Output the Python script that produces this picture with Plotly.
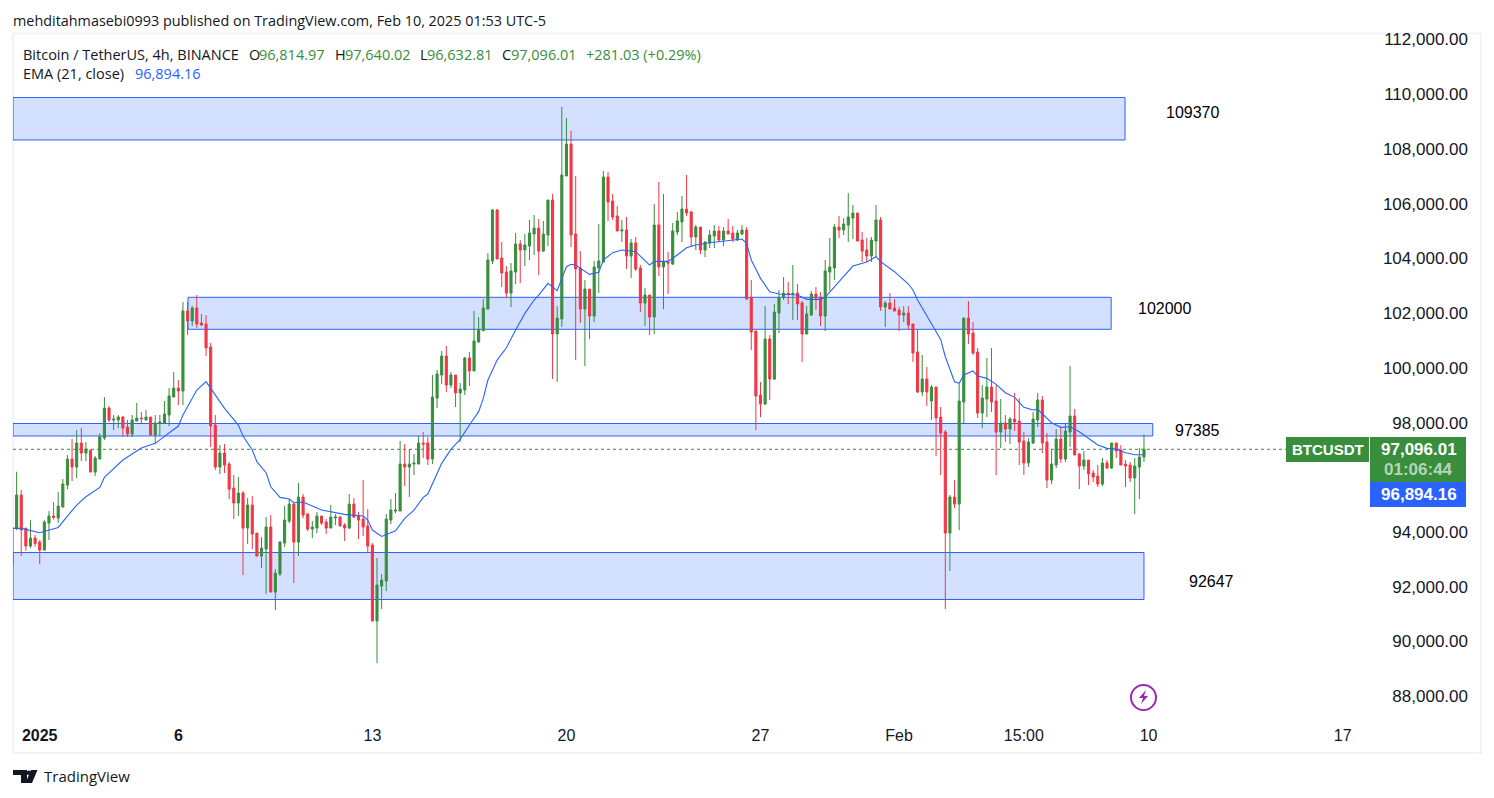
import pandas as pd
import plotly.graph_objects as go

bar_open = [
92830,94206,95424,94206,93560,93853,93707,93414,94401,94657,
94583,94985,95789,96739,96447,97324,96959,97068,96264,96739,
97507,98603,98164,98164,98274,97909,97653,98128,98237,98164,
98274,97616,98043,98055,98347,99005,99334,99224,102147,101782,
102257,101709,101672,100832,97982,96447,96959,96557,95680,95132,
95497,94218,95058,94035,93195,93451,94255,91880,92537,93670,
94474,95096,93707,95352,94730,94182,94219,94657,94438,94219,
94584,94621,94328,94219,95096,94657,94548,94292,93598,90821,
92100,92282,94511,94840,94840,96557,96448,96557,96557,97325,
97325,96740,98969,99809,100504,99444,99809,99152,99261,100431,
99956,101015,101427,102219,103973,105837,104083,103571,102804,103571,
104594,104375,104521,104960,105179,104338,104923,106202,101306,101854,
107079,108248,104960,103717,102219,102950,101963,103717,103937,107042,
106165,105617,105069,105106,104156,104631,103717,102438,102731,101927,
105288,103754,103937,103863,105033,105398,105873,105764,104850,105215,
104375,104631,104887,105069,104740,105069,104996,104740,104960,105106,
102646,101415,99077,98748,101123,99662,102073,102646,102792,102767,
102804,102439,101306,102000,102767,102658,101964,103571,103717,105216,
105106,105289,105544,105727,104741,104375,104156,104704,105471,102292,
102439,102256,102183,102000,102073,101673,100650,99188,99663,98859,
99371,98274,97726,94036,95351,95095,98823,101892,101344,100650,
98421,98932,99371,98859,97726,98055,97836,98201,98128,97397,
96594,97324,98165,98896,97361,95972,96520,97471,96740,97726,
98311,96922,96484,96703,96228,96119,95826,96594,96411,97324,
97069,96557,96520,96045,96447,96814.97]

bar_close = [
94242,95424,94145,93560,93853,93658,93414,94437,94657,94608,
95022,95826,96739,96447,97324,96959,97105,96264,96776,97555,
98603,98164,98201,98274,97872,97653,98164,98237,98213,98274,
97616,98055,98091,98384,99041,99334,99224,102147,101782,102257,
101672,101636,100795,97945,96447,96959,96520,95643,95132,95497,
94218,95058,93999,93195,93487,94255,91880,92574,93707,94510,
95095,93707,95352,94694,94182,94255,94657,94402,94219,94621,
94621,94292,94219,95096,94621,94511,94255,93561,90821,92136,
92319,94548,94877,94877,96557,96448,96557,96594,97325,97288,
96740,99006,99846,100504,99444,99809,99152,99298,100431,99956,
101052,101454,102256,104010,105837,104046,103535,102804,103608,104594,
104375,104558,104996,105179,104338,104960,106202,101306,101890,107115,
108248,104923,103681,102219,102950,101963,103754,103973,107042,106129,
105581,105069,105106,104156,104631,103681,102438,102731,101927,105288,
103754,103937,103900,105069,105435,105873,105727,104850,105215,104375,
104667,104923,105069,104740,105069,104960,104777,104996,105106,102585,
101379,99040,98748,101123,99662,102110,102646,102804,102767,102792,
102402,101306,102037,102767,102621,101964,103608,103754,105216,105106,
105325,105581,105727,104704,104339,104156,104741,105471,102292,102439,
102219,102146,102000,102073,101635,100613,99188,99663,99188,99371,
98238,97690,94036,95351,95095,98859,101892,101307,100613,98421,
98969,99371,98823,97726,98055,97836,98201,98092,97361,96594,
97361,98201,98896,97324,95972,96557,97471,96740,97763,98311,
96886,96484,96703,96192,96082,95826,96594,96411,97324,97032,
96520,96484,96045,96484,96813,97096.01]

bar_high = [
94754,96276,95607,94242,94510,93962,93780,94510,94839,95168,
95534,96009,96885,97470,97799,97872,97361,97068,96849,97677,
99005,98676,98347,98347,98311,98164,98347,98786,98457,98530,
98274,98347,98347,98859,99334,99918,99626,102476,102476,102330,
102732,102038,102001,100978,98347,97251,97287,96630,96155,96082,
95570,95314,95387,94035,93889,94620,94693,92720,93743,95022,
95278,95132,95863,95461,94767,94475,94804,94657,94548,95059,
94730,94657,94402,95461,95315,94804,95973,94913,93671,93123,
92538,94730,95279,95498,97398,97288,97106,96923,97581,97727,
97544,99809,99992,100686,100869,99919,99809,99517,100467,100650,
102148,101929,102585,104265,105873,105873,104667,103790,103900,104996,
104740,104960,105471,105654,105508,105435,106202,106421,102329,109600,
109198,108723,107079,104338,103279,102950,103973,105325,107262,107225,
106421,105983,105471,105581,104777,104850,103827,102986,102731,106056,
106860,106421,104302,105362,105764,106348,107115,105800,105288,105215,
104704,105106,105288,105252,105215,105508,105252,105106,105288,105215,
103279,101415,99552,102329,101269,102402,102914,103389,103206,103827,
103133,102512,102329,102877,103023,102841,104010,104814,105325,105618,
105544,106458,106019,105727,105033,104814,104850,106019,105581,102512,
102804,102585,102292,102329,102329,101673,101453,100540,100101,99444,
99371,98640,97799,95424,95972,99480,101892,102513,101746,100796,
99444,100430,100796,99444,98932,98347,98274,99151,98969,97726,
97507,98457,99151,99042,97690,97105,97836,97909,98019,100138,
98567,96959,97032,96703,96338,96520,96776,96703,97324,97324,
97251,96703,96630,96776,97142,97640.02]

bar_low = [
92830,94145,93195,93390,93487,93536,92903,93414,93780,94535,
94401,94985,95643,95935,96045,96666,96666,96264,96118,96739,
97434,98091,97799,97872,97543,97543,97543,98128,98043,98164,
97616,97287,97580,98055,97945,99005,98712,98712,101270,101599,
101526,101599,100503,97178,96337,96191,96228,95278,94547,94657,
92501,93633,93451,93195,92756,91806,91880,91222,92464,93524,
94401,92209,93196,94584,94109,93853,94036,94328,94000,94219,
94328,94292,93744,94182,94584,93817,93927,93305,90821,89286,
91259,91917,94365,94767,94840,95754,95352,96155,96557,96777,
96521,96557,98604,99481,99188,99334,98640,97361,99079,99408,
99956,100979,101427,102219,103863,104046,103023,102621,102292,103133,
103169,103790,104010,104192,103461,104302,104521,99661,99552,101561,
107079,104485,100356,101708,100136,101123,101744,102804,103937,105435,
105471,105069,104667,103681,103352,103608,102110,101598,101269,101306,
103425,102219,102767,103827,104923,104667,105617,104485,104375,104229,
104119,104448,104448,104667,104521,104960,104667,104704,104923,102548,
100721,97798,98273,98711,98894,99625,101342,102548,102402,101817,
101817,100283,101306,101964,102183,101598,101415,102877,103279,104814,
104923,104668,104777,104704,103937,103937,103937,104119,102146,101562,
102219,102146,101415,101744,101452,100284,99151,99042,98676,98165,
96849,96155,91259,92647,94949,94145,98055,100942,100540,98238,
97872,98274,98457,96155,97142,97361,97288,97763,96520,96155,
96447,97288,97909,96959,95680,95826,96411,96594,96630,97178,
96886,95644,96338,95790,95899,95717,95753,96374,96374,96776,
96520,95717,95899,94730,95278,96632.81]

ema_bar = [
0,2,6,10,12,14,16,19,20,24,26,28,31,33,36,37,40,42,44,46,49,50,52,53,55,56,58,60,61,
63,67,72,76,77,78,80,83,85,87,89,90,91,93,95,97,99,101,102,103,
105,107,109,111,113,114,116,118,119,120,121,122,125,127,128,130,132,135,138,139,142,144,146,148,151,154,158,159,
160,162,164,166,170,172,175,176,179,182,185,187,188,191,194,195,196,199,201,202,
204,205,206,208,209,211,213,215,217,219,221,222,224,225,227,229,231,235,237,239,241,243,245]
ema_value = [
94206,94206,94048,94242,94657,95058,95363,95704,96069,96703,96922,97141,97312,97555,97945,98347,99261,99565,99078,98591,97982,97580,97068,96642,96240,95728,95339,95278,95144,
95169,94877,94718,94657,94511,94146,93914,94121,94572,94877,95339,95461,95851,96582,97093,97459,97982,98470,98957,99627,
100356,100806,101452,102061,102548,102731,103157,102889,103340,103766,103851,103827,103486,103559,104010,104278,104375,104314,103827,103961,103961,104192,104460,104558,104643,104692,104777,104619,
104010,103340,102853,102767,102731,102573,102573,102646,103218,103791,103937,104132,103949,103583,103133,102914,102548,101696,101111,100478,
99565,99505,99809,99955,99773,99687,99468,99164,98993,98628,98530,98555,98226,98067,97897,97921,97738,97251,97129,97105,96971,96898,96894.16]

zone_low = [108395, 101479, 97582, 91609]
zone_high = [109947, 102648, 98038, 93326]
zone_start = ["2024-12-31 03:52", "2025-01-06 11:24", "2024-12-31 03:52", "2024-12-31 03:52"]
zone_end = ["2025-02-09 06:36", "2025-02-08 18:36", "2025-02-10 06:36", "2025-02-09 23:00"]
zone_labels = ["109370", "102000", "97385", "92647"]

y_ticks = [88000, 90000, 92000, 94000, 98000, 100000, 102000, 104000, 106000, 108000, 110000, 112000]
x_tick_dates = ["2025-01-01 03:00", "2025-01-06 03:00", "2025-01-13 03:00", "2025-01-20 03:00",
                "2025-01-27 03:00", "2025-02-01 03:00", "2025-02-05 15:00", "2025-02-10 03:00", "2025-02-17 03:00"]
x_tick_text = ["<b>2025</b>", "<b>6</b>", "13", "20", "27", "Feb", "15:00", "10", "17"]

GREEN, RED, BLUE, INK = "#388e3c", "#f23645", "#2962ff", "#131722"
FONT = "Open Sans"
W, H = 1494, 798
px = lambda v: v / W
py = lambda v: 1 - v / H

times = pd.date_range("2024-12-31 03:00", periods=len(bar_close), freq="4h")
ema_times = [times[i] for i in ema_bar]

fig = go.Figure()
fig.add_trace(go.Candlestick(
    x=times, open=bar_open, high=bar_high, low=bar_low, close=bar_close,
    increasing=dict(line=dict(color=GREEN, width=1), fillcolor=GREEN),
    decreasing=dict(line=dict(color=RED, width=1), fillcolor=RED),
    whiskerwidth=0, showlegend=False, hoverinfo="skip"))
fig.add_trace(go.Scatter(x=ema_times, y=ema_value, mode="lines",
                         line=dict(color=BLUE, width=1.1), showlegend=False, hoverinfo="skip"))

shapes = [dict(type="rect", xref="paper", yref="paper", x0=px(13), x1=px(1481), y0=py(753), y1=py(33.5),
               line=dict(color="#f0f3fa", width=2), layer="below")]
for x0, x1, lo, hi in zip(zone_start, zone_end, zone_low, zone_high):
    shapes.append(dict(type="rect", xref="x", yref="y", x0=x0, x1=x1, y0=lo, y1=hi,
                       fillcolor="rgba(41,98,255,0.2)", line=dict(color=BLUE, width=1), layer="below"))
shapes.append(dict(type="line", xref="paper", yref="y", x0=px(13), x1=px(1286), y0=bar_close[-1], y1=bar_close[-1],
                   line=dict(color=GREEN, width=1, dash="dot"), layer="below"))


def box(x0, y0, x1, y1, color):
    shapes.append(dict(type="rect", xref="paper", yref="paper", x0=px(x0), x1=px(x1), y0=py(y1), y1=py(y0),
                       fillcolor=color, line=dict(width=0)))


box(1286, 437, 1369, 462, GREEN)
box(1370, 437, 1466, 482, GREEN)
box(1370, 482, 1466, 507, BLUE)
shapes.append(dict(type="circle", xref="paper", yref="paper", x0=px(1131), x1=px(1156), y0=py(710), y1=py(685),
                   line=dict(color="#9c27b0", width=2)))


def poly(points, color):
    path = "M" + " L".join(f"{px(a):.5f},{py(b):.5f}" for a, b in points) + " Z"
    shapes.append(dict(type="path", xref="paper", yref="paper", path=path, fillcolor=color, line=dict(width=0)))


poly([(1146, 690), (1139, 698), (1143, 698), (1141, 704), (1148, 696), (1144, 696)], "#9c27b0")
poly([(13, 770), (27, 770), (27, 783), (21, 783), (21, 775), (13, 775)], INK)
poly([(31, 770), (37.5, 770), (32, 783), (25.5, 783)], INK)
shapes.append(dict(type="circle", xref="paper", yref="paper", x0=px(26.5), x1=px(31), y0=py(775), y1=py(770.5),
                   fillcolor=INK, line=dict(width=0)))

notes = []


def note(x, y, text, color=INK, size=14.5, anchor="left", family=FONT):
    notes.append(dict(xref="paper", yref="paper", x=px(x), y=py(y), text=text, showarrow=False,
                      xanchor=anchor, yanchor="middle", align=anchor, borderpad=0, borderwidth=0,
                      font=dict(family=family, size=size, color=color)))


note(13, 20, "mehditahmasebi0993 published on TradingView.com, Feb 10, 2025 01:53 UTC-5", size=14.4)
note(23, 54, "Bitcoin / TetherUS, 4h, BINANCE")
note(249, 54, "O")
note(259, 54, f"{bar_open[-1]:,.2f}", GREEN)
note(335, 54, "H")
note(345, 54, f"{bar_high[-1]:,.2f}", GREEN)
note(420, 54, "L")
note(427, 54, f"{bar_low[-1]:,.2f}", GREEN)
note(502, 54, "C")
note(511, 54, f"{bar_close[-1]:,.2f}", GREEN)
note(586, 54, "+281.03 (+0.29%)", GREEN)
note(23, 74, "EMA (21, close)")
note(135, 74, f"{ema_value[-1]:,.2f}", BLUE)

for x, y, label in zip([1192, 1164, 1197, 1211], [112, 308, 430, 581], zone_labels):
    note(x, y, label, "#000000", 16, "center", "Liberation Sans")

note(1327.5, 449.5, "<b>BTCUSDT</b>", "#ffffff", 15, "center", "Liberation Sans")
note(1419, 449.5, f"<b>{bar_close[-1]:,.2f}</b>", "#ffffff", 17, "center", "Liberation Sans")
note(1418, 469.5, "<b>01:06:44</b>", "rgba(255,255,255,0.65)", 17, "center", "Liberation Sans")
note(1419, 494.5, f"<b>{ema_value[-1]:,.2f}</b>", "#ffffff", 17, "center", "Liberation Sans")
note(44, 776, "TradingView", INK, 15)

fig.update_layout(
    width=W, height=H, margin=dict(l=0, r=0, t=0, b=0), autosize=False,
    paper_bgcolor="#ffffff", plot_bgcolor="rgba(0,0,0,0)",
    shapes=shapes, annotations=notes, boxgap=0.35, showlegend=False,
    xaxis=dict(domain=[px(13), px(1480)], range=["2024-12-31 03:52", "2025-02-22 01:54"],
               type="date", rangeslider=dict(visible=False), showgrid=False, zeroline=False, showline=False,
               tickmode="array", tickvals=x_tick_dates, ticktext=x_tick_text, ticks="",
               tickangle=0, ticklabelstandoff=2,
               tickfont=dict(family="Liberation Sans", size=16, color=INK)),
    yaxis=dict(domain=[py(722), py(20)], range=[87134, 112778], showgrid=False, zeroline=False, showline=False,
               anchor="free", position=px(1468), side="left", tickmode="array", tickvals=y_ticks,
               tickformat=",.2f", ticks="", ticklabelshift=-2,
               tickfont=dict(family="Liberation Sans", size=17, color=INK)),
)

fig.write_html("out.html", config=dict(displayModeBar=False, responsive=False),
               post_script="document.body.style.margin='0';document.body.style.overflow='hidden';")
